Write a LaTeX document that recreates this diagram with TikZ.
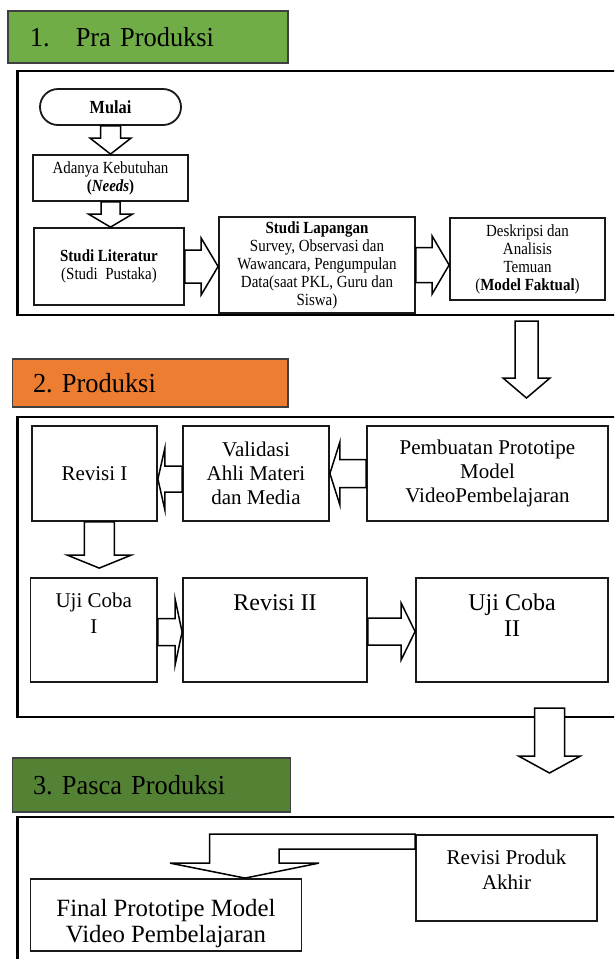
\documentclass[tikz,border=0pt]{standalone}
\usepackage{fontspec}
\setmainfont{Liberation Serif}
\newfontfamily\narrowserif[FakeStretch=0.88]{Liberation Serif}
\newfontfamily\headserif[FakeStretch=0.96]{Liberation Serif}
\usetikzlibrary{calc}
\definecolor{hdrgreen}{HTML}{70AD47}
\definecolor{hdrorange}{HTML}{ED7D31}
\definecolor{hdrdark}{HTML}{548235}
\frenchspacing

% block arrow pointing down: start, tip, shaft half width, head half width, head length
\newcommand\blockdown[5]{%
  \draw[blockarrow] let \p1=(#1), \p2=(#2) in
    (\x2-#3,\y1) -- (\x2-#3,\y2+#5) -- (\x2-#4,\y2+#5) -- (\x2,\y2)
    -- (\x2+#4,\y2+#5) -- (\x2+#3,\y2+#5) -- (\x2+#3,\y1) -- cycle;}
% block arrow pointing right
\newcommand\blockright[5]{%
  \draw[blockarrow] let \p1=(#1), \p2=(#2) in
    (\x1,\y2+#3) -- (\x2-#5,\y2+#3) -- (\x2-#5,\y2+#4) -- (\x2,\y2)
    -- (\x2-#5,\y2-#4) -- (\x2-#5,\y2-#3) -- (\x1,\y2-#3) -- cycle;}
% block arrow pointing left
\newcommand\blockleft[5]{%
  \draw[blockarrow] let \p1=(#1), \p2=(#2) in
    (\x1,\y2+#3) -- (\x2+#5,\y2+#3) -- (\x2+#5,\y2+#4) -- (\x2,\y2)
    -- (\x2+#5,\y2-#4) -- (\x2+#5,\y2-#3) -- (\x1,\y2-#3) -- cycle;}

\begin{document}
\begin{tikzpicture}[x=1pt,y=-1pt,
  frame/.style={draw=black, line width=2.8pt},
  hdr/.style={draw=black!75, line width=1.3pt, minimum height=#1, align=left, inner ysep=0pt,
    font=\headserif\fontsize{27.5}{30}\selectfont},
  boxa/.style={draw=black!90, line width=1.8pt, align=center, inner sep=1pt,
    font=\narrowserif\fontsize{17}{18}\selectfont},
  boxb/.style={draw=black!90, line width=1.8pt, align=center, inner sep=1pt,
    font=\fontsize{21}{24}\selectfont},
  txt/.style={align=center, inner sep=0pt, anchor=north},
  blockarrow/.style={draw=black, line width=1.5pt, fill=white, line join=miter}]

\clip (0,0) rectangle (614,959);
\fill[white] (0,0) rectangle (614,959);

% ---------- frames ----------
\draw[frame] (17.6,71) rectangle (640,315);
\draw[frame] (17.6,417) rectangle (640,717);
\draw[frame] (17.6,817) rectangle (640,980);

% ---------- section headers ----------
\node[hdr=52pt, fill=hdrgreen, inner xsep=22pt, text width=236pt] (h1) at (148,37)
  {1.\hspace{26pt}Pra Produksi};
\node[hdr=48pt, fill=hdrorange, inner xsep=20.5pt, text width=234.5pt] (h2) at (150.25,383)
  {2. Produksi};
\node[hdr=54pt, fill=hdrdark, inner xsep=20.5pt, text width=237pt] (h3) at (151.5,785)
  {3. Pasca Produksi};

% ---------- 1. Pra Produksi ----------
\node[boxa, minimum width=141pt, minimum height=36pt, rounded corners=18pt] (mulai) at (110.5,107)
  {\fontsize{18.5}{18}\selectfont\textbf{Mulai}};
\node[boxa, minimum width=155pt, minimum height=46pt] (adanya) at (110.5,178)
  {Adanya Kebutuhan\\\textbf{(\textit{Needs})}};
\node[boxa, minimum width=150pt, minimum height=77pt] (lit) at (109,266.5)
  {\textbf{Studi Literatur}\\(Studi\ \ Pustaka)};
\node[boxa, minimum width=196pt, minimum height=96pt] (lap) at (317,265)
  {\textbf{Studi Lapangan}\\Survey, Observasi dan\\Wawancara, Pengumpulan\\Data(saat PKL, Guru dan\\Siswa)};
\node[boxa, minimum width=155pt, minimum height=82pt] (desk) at (527.5,259)
  {Deskripsi dan\\Analisis\\Temuan\\(\textbf{Model Faktual})};

\blockdown{mulai.south}{adanya.north}{10pt}{20.5pt}{16pt}
\blockdown{adanya.south}{adanya.south |- lit.north}{9.5pt}{22pt}{13pt}
\blockright{lit.east}{lap.west |- lit.east}{16.5pt}{28.5pt}{17pt}
\blockright{lap.east}{desk.west |- lap.east}{17.5pt}{29pt}{17pt}

\coordinate (e1s) at (526.5,321);
\coordinate (e1t) at (526.5,398);
\blockdown{e1s}{e1t}{11.5pt}{23.5pt}{20pt}

% ---------- 2. Produksi ----------
\node[boxb, minimum width=125pt, minimum height=95pt] (rev1) at (94.5,473.5) {Revisi I};
\node[boxb, minimum width=146pt, minimum height=95pt] (val) at (256,473.5)
  {Validasi\\Ahli Materi\\dan Media};
\node[boxb, minimum width=241pt, minimum height=95pt] (pemb) at (487.5,473.5)
  {Pembuatan Prototipe\\Model\\VideoPembelajaran};

\node[boxb, minimum width=126.5pt, minimum height=104pt] (uji1) at (93.75,630) {};
\node[boxb, minimum width=184pt, minimum height=104pt] (rev2) at (275,630) {};
\node[boxb, minimum width=192pt, minimum height=104pt] (uji2) at (512,630) {};
\node[txt, font=\fontsize{21}{26.3}\selectfont] (uji1t) at ([yshift=-15.2pt]uji1.north) {Uji Coba\\I};
\node[txt, font=\fontsize{24}{26.6}\selectfont] (rev2t) at ([yshift=-16.8pt]rev2.north) {Revisi II};
\node[txt, font=\fontsize{24}{26.6}\selectfont] (uji2t) at ([yshift=-16.3pt]uji2.north) {Uji Coba\\II};

\blockleft{pemb.west}{val.east}{14pt}{31.5pt}{10pt}
\blockleft{val.west}{[yshift=-5.5pt]rev1.east}{13pt}{31pt}{7pt}
\blockdown{rev1.south}{[xshift=5.5pt,yshift=9pt]uji1.north}{15pt}{32pt}{13pt}
\blockright{uji1.east}{[yshift=-2pt]rev2.west}{13.5pt}{33pt}{7pt}
\blockright{rev2.east}{[yshift=-1.5pt]uji2.west}{13.5pt}{28.5pt}{14pt}

\coordinate (e2s) at (549.5,708);
\coordinate (e2t) at (549.5,773);
\blockdown{e2s}{e2t}{15pt}{31pt}{17pt}

% ---------- 3. Pasca Produksi ----------
\node[boxb, minimum width=181pt, minimum height=86pt] (rpa) at (506.5,878) {};
\node[txt, font=\fontsize{21}{25}\selectfont] (rpat) at ([yshift=-15.7pt]rpa.north) {Revisi Produk\\Akhir};
\node[boxb, minimum width=271pt, minimum height=72pt] (fin) at (166,915) {};
\node[txt, font=\fontsize{24.8}{26}\selectfont] (fint) at ([yshift=-21pt]fin.north) {Final Prototipe Model\\Video Pembelajaran};

% bent arrow from the final revision back down to the final prototype
\draw[blockarrow] let \p1=(rpa.north west), \p2=([xshift=79pt]fin.north) in
  (\x1,\y1) -- (\x2-35.5pt,\y1) -- (\x2-35.5pt,\y2+15pt) -- (\x2-75pt,\y2+15pt)
  -- (\x2,\y2) -- (\x2+74pt,\y2+15pt) -- (\x2+34pt,\y2+15pt) -- (\x2+34pt,\y1-15pt)
  -- (\x1,\y1-15pt) -- cycle;
\end{tikzpicture}
\end{document}
